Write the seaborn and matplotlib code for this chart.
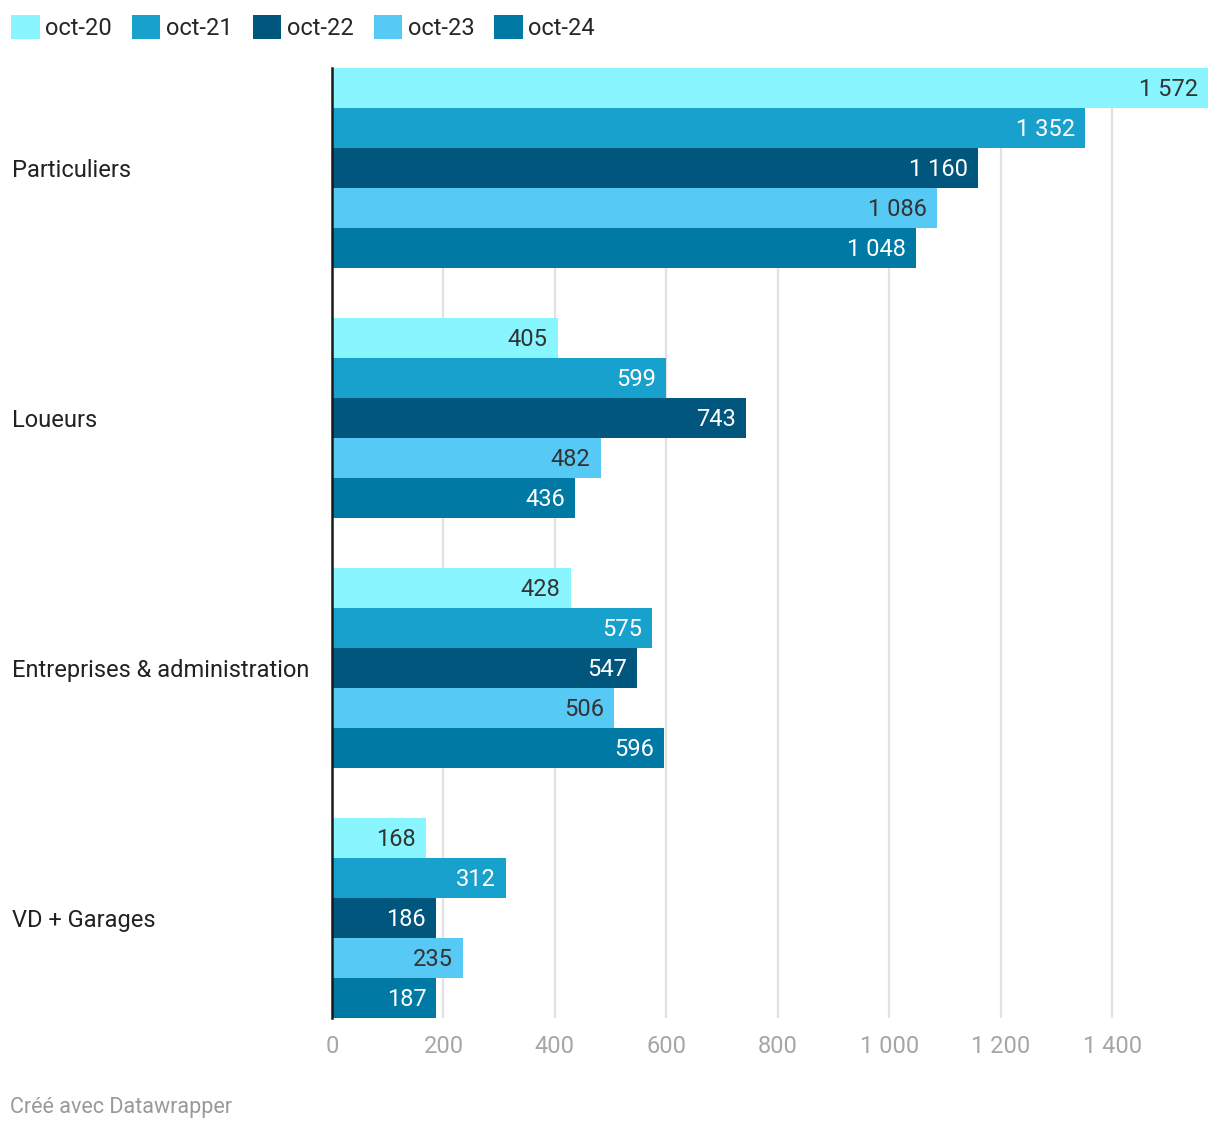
import pandas as pd
import seaborn as sns
import matplotlib.pyplot as plt
import matplotlib.ticker as ticker
from matplotlib.patches import Patch

categories = ['Particuliers', 'Loueurs', 'Entreprises & administration', 'VD + Garages']
periods = ['oct-20', 'oct-21', 'oct-22', 'oct-23', 'oct-24']
oct20 = [1572, 405, 428, 168]
oct21 = [1352, 599, 575, 312]
oct22 = [1160, 743, 547, 186]
oct23 = [1086, 482, 506, 235]
oct24 = [1048, 436, 596, 187]

colors = ['#88F5FF', '#18A1CD', '#00567C', '#57C9F5', '#0079A5']
text_colors = ['#333333', 'white', 'white', '#333333', 'white']

def fmt(v):
    return f'{v:,.0f}'.replace(',', ' ')

rows = []
for p, vals in zip(periods, [oct20, oct21, oct22, oct23, oct24]):
    for c, v in zip(categories, vals):
        rows.append({'categorie': c, 'periode': p, 'valeur': v})
df = pd.DataFrame(rows)

sns.set_theme(style='white')
plt.rcParams['font.family'] = ['Roboto', 'DejaVu Sans']

fig = plt.figure(figsize=(12.2, 11.32), dpi=100)
ax = fig.add_axes([332 / 1220, 1 - 1018 / 1132, 876 / 1220, 950 / 1132])

sns.barplot(data=df, y='categorie', x='valeur', hue='periode', order=categories,
            hue_order=periods, palette=colors, orient='h', width=0.8,
            saturation=1, linewidth=0, ax=ax, legend=False)

ax.set_xlim(0, 1572)
ax.set_ylim(3.4, -0.4)
ax.set_xlabel('')
ax.set_ylabel('')
ax.xaxis.set_major_locator(ticker.MultipleLocator(200))
ax.xaxis.set_major_formatter(ticker.FuncFormatter(lambda v, pos: fmt(v)))
ax.grid(axis='x', color='#e2e2e2', linewidth=1.6, zorder=0)
ax.set_axisbelow(True)
for s in ['top', 'right', 'bottom']:
    ax.spines[s].set_visible(False)
ax.spines['left'].set_color('#1a1a1a')
ax.spines['left'].set_linewidth(1.8)
ax.spines['left'].set_zorder(5)
ax.tick_params(axis='x', length=0, labelsize=17, labelcolor='#a6a6a6', pad=12)
ax.tick_params(axis='y', length=0, labelsize=17, labelcolor='#222222', pad=0)
for lab in ax.get_yticklabels():
    lab.set_horizontalalignment('left')
    lab.set_x(-320 / 876)

# value labels inside the bar ends
for container, tc in zip(ax.containers, text_colors):
    for b in container:
        ax.annotate(fmt(b.get_width()), (b.get_width(), b.get_y() + b.get_height() / 2),
                    xytext=(-10, -2), textcoords='offset pixels', ha='right', va='center',
                    color=tc, fontsize=17)

handles = [Patch(facecolor=c, edgecolor='none', label=p) for c, p in zip(colors, periods)]
fig.legend(handles=handles, loc='upper left', bbox_to_anchor=(2 / 1220, 1 - 6 / 1132),
           ncol=5, frameon=False, fontsize=17, handlelength=1.19, handleheight=1.19,
           handletextpad=0.25, columnspacing=0.85, borderaxespad=0)

fig.text(10 / 1220, 1 - 1107 / 1132, 'Créé avec Datawrapper', color='#999999',
         fontsize=15.5, va='center', ha='left')

fig.savefig('out.png', dpi=100)
